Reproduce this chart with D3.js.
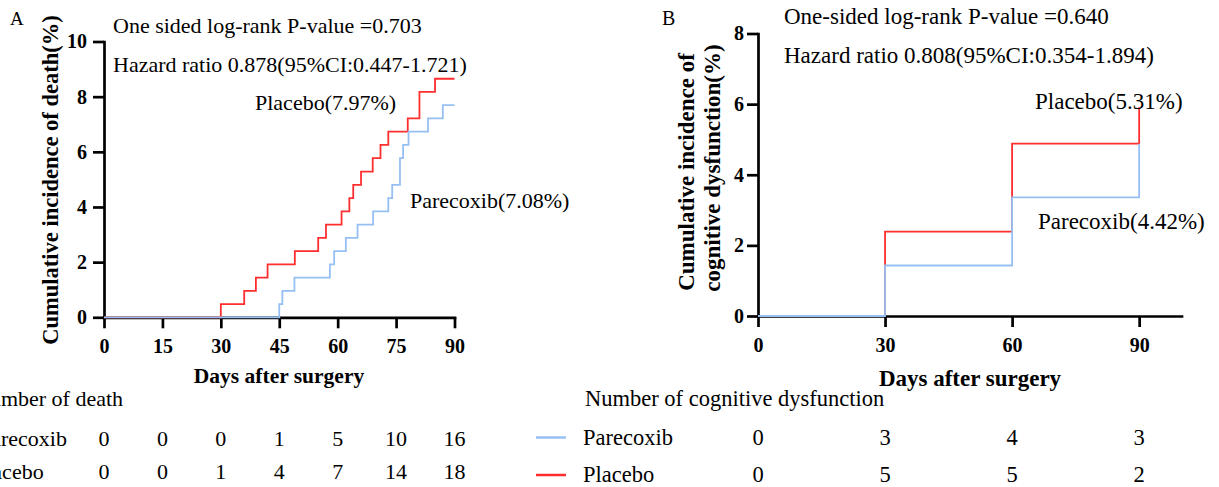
<!DOCTYPE html>
<html>
<head>
<meta charset="utf-8">
<script src="https://cdn.jsdelivr.net/npm/d3@7/dist/d3.min.js"></script>
<style>
  html, body { margin: 0; padding: 0; background: #fff; }
  svg { display: block; font-family: "Liberation Serif", "Times New Roman", serif; }
</style>
</head>
<body>
<svg id="chart" width="1219" height="487"></svg>
<script>
// ---------- DATA ----------
// Panel A: cumulative incidence of death (%)
const deathPlaceboDays   = [0, 30, 36, 39, 42, 49, 55, 57, 61, 63, 64, 66, 69, 71, 73, 78, 81, 85, 90];
const deathPlaceboValues = [0, 0.48, 0.96, 1.44, 1.92, 2.40, 2.88, 3.36, 3.84, 4.32, 4.80, 5.28, 5.77, 6.25, 6.73, 7.21, 8.17, 8.65, 8.65];
const deathParecoxibDays   = [0, 45, 45.8, 48.9, 58, 59.1, 62.1, 65.1, 69.1, 73, 74, 76, 76.8, 78.2, 83.2, 87, 90];
const deathParecoxibValues = [0, 0.48, 0.96, 1.44, 1.92, 2.40, 2.88, 3.36, 3.84, 4.32, 4.80, 5.77, 6.25, 6.73, 7.21, 7.69, 7.69];
const xTicksA = [0, 15, 30, 45, 60, 75, 90];
const yTicksA = [0, 2, 4, 6, 8, 10];
const deathTableParecoxib = [0, 0, 0, 1, 5, 10, 16];
const deathTablePlacebo   = [0, 0, 1, 4, 7, 14, 18];

// Panel B: cumulative incidence of cognitive dysfunction (%)
const cogPlaceboDays     = [0, 30, 60, 90];
const cogPlaceboValues   = [0, 2.39, 4.88, 5.91];
const cogParecoxibDays   = [0, 30, 60, 90];
const cogParecoxibValues = [0, 1.43, 3.36, 4.88];
const xTicksB = [0, 30, 60, 90];
const yTicksB = [0, 2, 4, 6, 8];
const cogTableParecoxib = [0, 3, 4, 3];
const cogTablePlacebo   = [0, 5, 5, 2];

const RED = "#ff2e2e";
const BLUE = "#96c0f3";

// ---------- DRAW ----------
const svg = d3.select("#chart");

function zip(days, vals) { return days.map((d, i) => ({ t: d, v: vals[i] })); }

function styleAxis(g, fontSize) {
  g.select(".domain").attr("stroke", "#000").attr("stroke-width", 2.7).attr("stroke-linecap", "square");
  g.selectAll(".tick line").attr("stroke", "#000").attr("stroke-width", 2.7);
  g.selectAll(".tick text").attr("fill", "#000").attr("font-size", fontSize)
    .attr("font-weight", "bold").attr("font-family", "Liberation Serif, Times New Roman, serif");
}

function panel(opts) {
  const g = svg.append("g");
  const x = d3.scaleLinear().domain(opts.xDomain).range(opts.xRange);
  const y = d3.scaleLinear().domain(opts.yDomain).range(opts.yRange);

  const ax = g.append("g").attr("transform", `translate(0,${opts.yRange[0]})`)
    .call(d3.axisBottom(x).tickValues(opts.xTicks).tickSize(11).tickPadding(11).tickSizeOuter(0));
  styleAxis(ax, opts.tickFont);
  const ay = g.append("g").attr("transform", `translate(${opts.xRange[0]},0)`)
    .call(d3.axisLeft(y).tickValues(opts.yTicks).tickSize(11).tickPadding(opts.yPad).tickSizeOuter(0));
  styleAxis(ay, opts.tickFont);

  const line = d3.line().x(d => x(d.t)).y(d => y(d.v)).curve(d3.curveStepAfter);
  g.append("path").datum(opts.red).attr("d", line).attr("fill", "none")
    .attr("stroke", RED).attr("stroke-width", 1.8);
  g.append("path").datum(opts.blue).attr("d", line).attr("fill", "none")
    .attr("stroke", BLUE).attr("stroke-width", 1.8);

  // table rows
  opts.xTicks.forEach((t, i) => {
    g.append("text").attr("x", x(t)).attr("y", opts.row1Y).attr("text-anchor", "middle")
      .attr("font-size", opts.tableFont).text(opts.tableBlue[i]);
    g.append("text").attr("x", x(t)).attr("y", opts.row2Y).attr("text-anchor", "middle")
      .attr("font-size", opts.tableFont).text(opts.tableRed[i]);
  });
  return { x, y, g };
}

const A = panel({
  xDomain: [0, 90], xRange: [104, 454.5],
  yDomain: [0, 10], yRange: [317.3, 41.5],
  xTicks: xTicksA, yTicks: yTicksA, yPad: 6, tickFont: 20,
  red: zip(deathPlaceboDays, deathPlaceboValues),
  blue: zip(deathParecoxibDays, deathParecoxibValues),
  tableBlue: deathTableParecoxib, tableRed: deathTablePlacebo,
  row1Y: 446, row2Y: 479, tableFont: 22
});

const B = panel({
  xDomain: [0, 100], xRange: [758, 1181.5],
  yDomain: [0, 8], yRange: [316, 33.5],
  xTicks: xTicksB, yTicks: yTicksB, yPad: 3, tickFont: 20,
  red: zip(cogPlaceboDays, cogPlaceboValues),
  blue: zip(cogParecoxibDays, cogParecoxibValues),
  tableBlue: cogTableParecoxib, tableRed: cogTablePlacebo,
  row1Y: 445, row2Y: 482, tableFont: 22.5
});

function txt(x, y, s, size, opts = {}) {
  const t = svg.append("text").attr("x", x).attr("y", y).attr("font-size", size)
    .attr("fill", "#000").text(s);
  if (opts.bold) t.attr("font-weight", "bold");
  if (opts.anchor) t.attr("text-anchor", opts.anchor);
  if (opts.rotate) t.attr("transform", `rotate(-90,${x},${y})`);
  return t;
}

// Panel A texts
txt(10, 25, "A", 19);
txt(113, 33, "One sided log-rank P-value =0.703", 22);
txt(113, 71.5, "Hazard ratio 0.878(95%CI:0.447-1.721)", 22);
txt(255, 110, "Placebo(7.97%)", 22);
txt(410, 208, "Parecoxib(7.08%)", 22);
txt(57.5, 180, "Cumulative incidence of death(%)", 22.5, { bold: true, anchor: "middle", rotate: true });
txt(279, 383, "Days after surgery", 21.5, { bold: true, anchor: "middle" });
txt(-26, 406, "Number of death", 22);
txt(-21, 446, "Parecoxib", 22);
txt(-26, 479, "Placebo", 22);

// Panel B texts
txt(662, 25, "B", 20);
txt(784, 24, "One-sided log-rank P-value =0.640", 23);
txt(784, 62.5, "Hazard ratio 0.808(95%CI:0.354-1.894)", 23);
txt(1035, 108.5, "Placebo(5.31%)", 23);
txt(1038, 229, "Parecoxib(4.42%)", 23);
txt(694, 172, "Cumulative incidence of", 23, { bold: true, anchor: "middle", rotate: true });
txt(720, 168, "cognitive dysfunction(%)", 23, { bold: true, anchor: "middle", rotate: true });
txt(970, 386, "Days after surgery", 23, { bold: true, anchor: "middle" });
txt(585, 406, "Number of cognitive dysfunction", 22.5);
txt(583, 445, "Parecoxib", 22.5);
txt(583, 482, "Placebo", 22.5);
svg.append("line").attr("x1", 536).attr("x2", 566).attr("y1", 437.5).attr("y2", 437.5)
  .attr("stroke", BLUE).attr("stroke-width", 2.5);
svg.append("line").attr("x1", 536).attr("x2", 566).attr("y1", 475).attr("y2", 475)
  .attr("stroke", RED).attr("stroke-width", 2.5);
</script>
</body>
</html>
